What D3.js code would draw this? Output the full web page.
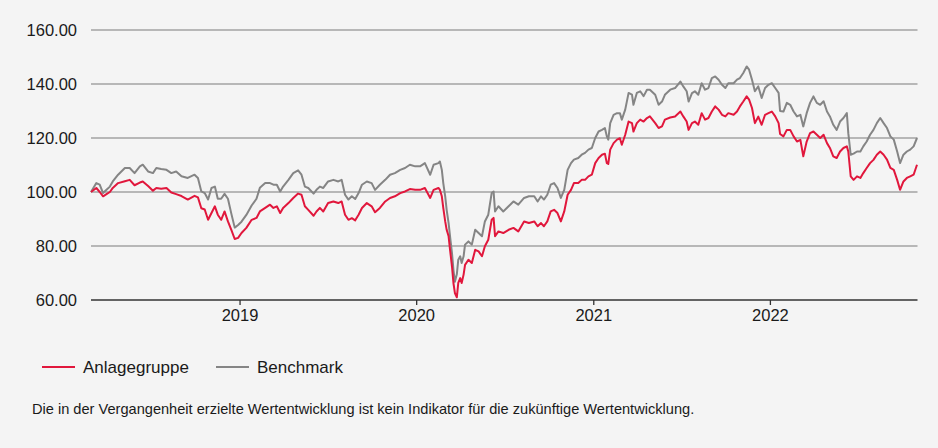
<!DOCTYPE html>
<html>
<meta charset="utf-8">
<title>Wertentwicklung Anlagegruppe vs. Benchmark</title>
<script src="https://d3js.org/d3.v7.min.js"></script>
<style>
body {
  margin: 0;
  background: #f4f4f4;
  font-family: "Liberation Sans", Arial, sans-serif;
}
.grid line {
  stroke: #a3a3a3;
  stroke-width: 1.5;
}
.axis text {
  fill: #1a1a1a;
  font-size: 16.5px;
  font-family: "Liberation Sans", Arial, sans-serif;
}
.legend text {
  fill: #1a1a1a;
  font-size: 17px;
}
.note {
  fill: #1a1a1a;
  font-size: 14.6px;
}
</style>
<body>
  <svg width="938" height="448"></svg>
  <script>
  // weekly-ish readings, indexed to 100 at start
  var dates = [
    "2018-02-28","2018-03-11","2018-03-18","2018-03-25","2018-04-01","2018-04-08","2018-04-14","2018-04-25",
    "2018-05-09","2018-05-19","2018-05-29","2018-06-09","2018-06-15","2018-06-26","2018-07-06","2018-07-13",
    "2018-07-23","2018-08-03","2018-08-13","2018-08-23","2018-09-03","2018-09-16","2018-09-30","2018-10-07",
    "2018-10-14","2018-10-21","2018-10-28","2018-11-04","2018-11-11","2018-11-17","2018-11-24","2018-12-01",
    "2018-12-08","2018-12-15","2018-12-22","2018-12-29","2019-01-05","2019-01-15","2019-01-26","2019-02-05",
    "2019-02-12","2019-02-23","2019-03-05","2019-03-12","2019-03-19","2019-03-26","2019-04-01","2019-04-12",
    "2019-04-22","2019-05-02","2019-05-09","2019-05-16","2019-05-23","2019-06-03","2019-06-09","2019-06-16",
    "2019-06-23","2019-07-03","2019-07-14","2019-07-24","2019-07-31","2019-08-07","2019-08-14","2019-08-21",
    "2019-08-28","2019-09-04","2019-09-11","2019-09-21","2019-10-01","2019-10-08","2019-10-18","2019-10-29",
    "2019-11-08","2019-11-18","2019-11-29","2019-12-09","2019-12-19","2019-12-30","2020-01-09","2020-01-19",
    "2020-01-30","2020-02-06","2020-02-16","2020-02-19","2020-02-23","2020-02-26","2020-03-01","2020-03-04",
    "2020-03-08","2020-03-11","2020-03-15","2020-03-18","2020-03-21","2020-03-25","2020-03-28","2020-04-01",
    "2020-04-04","2020-04-08","2020-04-11","2020-04-18","2020-04-25","2020-05-02","2020-05-09","2020-05-16",
    "2020-05-22","2020-05-29","2020-06-05","2020-06-09","2020-06-12","2020-06-19","2020-06-29","2020-07-10",
    "2020-07-20","2020-07-30","2020-08-11","2020-08-21","2020-09-01","2020-09-08","2020-09-15","2020-09-21",
    "2020-09-28","2020-10-05","2020-10-12","2020-10-19","2020-10-26","2020-11-02","2020-11-09","2020-11-16",
    "2020-11-22","2020-12-01","2020-12-08","2020-12-15","2020-12-22","2020-12-29","2021-01-05","2021-01-12",
    "2021-01-19","2021-01-25","2021-01-29","2021-02-01","2021-02-05","2021-02-12","2021-02-19","2021-02-25",
    "2021-03-01","2021-03-08","2021-03-15","2021-03-22","2021-03-25","2021-04-01","2021-04-08","2021-04-15",
    "2021-04-22","2021-04-28","2021-05-09","2021-05-16","2021-05-23","2021-05-29","2021-06-09","2021-06-19",
    "2021-06-30","2021-07-06","2021-07-13","2021-07-17","2021-07-24","2021-07-30","2021-08-06","2021-08-13",
    "2021-08-20","2021-08-27","2021-09-03","2021-09-10","2021-09-17","2021-09-24","2021-10-01","2021-10-07",
    "2021-10-18","2021-10-25","2021-10-31","2021-11-07","2021-11-14","2021-11-19","2021-11-25","2021-12-01",
    "2021-12-08","2021-12-15","2021-12-22","2021-12-29","2022-01-05","2022-01-12","2022-01-19","2022-01-22",
    "2022-01-29","2022-02-05","2022-02-12","2022-02-19","2022-02-26","2022-03-05","2022-03-11","2022-03-18",
    "2022-03-25","2022-04-01","2022-04-08","2022-04-15","2022-04-22","2022-04-29","2022-05-05","2022-05-12",
    "2022-05-19","2022-05-26","2022-06-02","2022-06-09","2022-06-12","2022-06-17","2022-06-23","2022-06-30",
    "2022-07-07","2022-07-13","2022-07-20","2022-07-27","2022-08-03","2022-08-10","2022-08-17","2022-08-24",
    "2022-08-31","2022-09-07","2022-09-14","2022-09-21","2022-09-27","2022-10-04","2022-10-11","2022-10-18",
    "2022-10-25","2022-11-01"
  ];

  var anlagegruppe = [
    100,101.5,100,98.4,99.2,100,101.5,103.3,
    104,104.5,102.5,103.5,103.9,102.2,100.5,101.5,
    101.2,101.5,99.8,99.2,98.5,97.2,98.6,98,
    94,93.5,89.7,92.2,94.7,91.6,89.7,92.8,
    89.1,86,82.6,83,84.8,86.7,89.7,90.4,
    92.8,94.1,95.3,94.1,94.7,92.2,94.1,95.9,
    97.8,99.4,99,94.7,93.4,91.2,92.8,94.1,
    92.8,95.9,96.5,95.9,96.5,91.6,89.7,90.3,
    89.5,91.6,94.1,95.9,94.7,92.5,94.1,96.5,
    97.8,98.4,99.6,100.2,101.1,100.8,100.8,101.5,
    97.8,100.8,101.5,100.8,98.4,94.1,89.1,86,
    83.6,78.6,72.4,66.3,62.6,61,66.3,68.1,
    66.3,69.4,73,74.9,73.7,78.6,78,76.2,
    79.9,82.3,89.7,90.4,83.6,85.4,84.8,86,
    86.7,85.4,89.1,88.5,89.1,87.3,88.5,87.3,
    89.1,92.8,93.4,92.2,89.1,92.8,99,100.8,
    103.3,103.3,104.5,104.5,105.8,106.4,110.7,112.6,
    113.8,114.2,110.7,110.4,115.7,118.1,119.4,119.9,
    117.5,121.2,126.1,125.5,122.4,125.5,126.8,126.1,
    127.4,128,125.5,123.7,124.3,126.8,127.6,128,
    129.8,128,126.1,123,125.5,126.1,124.9,129.2,
    126.8,127.4,129.8,131.7,130.5,128.6,128,129.2,
    128.6,129.8,131.7,133.5,135.4,134.2,131.1,125.5,
    127.9,124.9,128.6,129.2,129.8,128,125.5,121.5,
    120.6,123,123,120.6,118.7,119.3,113.2,118.7,
    121.8,122.4,121.2,120,121.2,118.1,116.3,113.2,
    112.6,115,116.3,116.9,115,105.8,104.5,105.8,
    105.2,107,108.9,110.7,111.9,113.8,115,113.8,
    112,108.9,108.2,104.5,100.8,103.9,105.2,105.8,
    106.4,110.1
  ];

  var benchmark = [
    100,103.3,102.7,99.6,100.8,102,103.9,106.4,
    108.9,108.9,107,109.5,110.1,107.6,107,108.9,
    108.5,108.2,107,107.6,105.8,105.2,106.4,105.2,
    100.2,99.6,97.2,101.5,102,97.5,97.5,99.3,
    97.5,92,86.8,87.8,89,91.5,95,97.5,
    101.6,103.3,103.3,102.7,102.7,100.2,102,104.5,
    107,108,106.4,102,101.5,99.4,100.8,102,
    101.5,103.9,104.5,103.9,104.5,99,97.2,98.4,
    97.4,99.6,102.7,103.9,103.3,100.8,102.7,104.5,
    106.4,107,108.2,108.9,110.1,109.5,109.5,110.7,
    106.4,110.1,110.7,111.3,108.2,103.3,98.4,93.4,
    88.5,83.6,77.4,71.2,66.8,69.5,74.9,76.2,
    73.7,76.2,80.5,81.7,80.5,86,84.8,83.6,
    89.1,91.6,99.6,100.2,92.8,94.7,92.8,94.7,
    96.5,95.3,97.8,98.4,98.4,96.5,98.4,97.2,
    99,102.7,103.3,101.5,97.8,100.8,108.2,110.7,
    112,112.6,113.8,114.5,115.7,116.3,120,122.4,
    123,123.7,120.6,119.4,125.5,128.6,129.2,129.2,
    126.8,130.5,136.7,136.1,132.3,136.7,137.3,135.5,
    137.9,137.9,136,132.3,133.5,136,137.9,138.5,
    140.9,139.1,137.3,133.5,136.6,137.3,136,140.3,
    137.9,138.5,142.2,142.8,141.6,139.7,138.5,140.3,
    140.3,141.6,142.2,144.1,146.5,145.3,141.6,137.3,
    139.1,134.8,138.5,139.7,140.3,138.5,136.7,130,
    129.8,133,132.3,129.8,128,128.6,124.3,129.2,
    133,135.4,133,132.3,133.6,129.8,128,124.9,
    123,126.1,127.4,129.2,121.8,113.8,114.2,115,
    115,116.9,118.7,121.2,123,125.5,127.4,125.5,
    123.7,120.6,119.4,115,110.7,113.8,115,115.7,
    116.9,120
  ];

  var yTicks = [60, 80, 100, 120, 140, 160];
  var xTicks = ["2019-01-01", "2020-01-01", "2021-01-01", "2022-01-01"];
  var seriesNames = ["Anlagegruppe", "Benchmark"];
  var seriesColors = ["#e1173c", "#858585"];
  var footnote = "Die in der Vergangenheit erzielte Wertentwicklung ist kein Indikator für die zukünftige Wertentwicklung.";

  var parse = d3.timeParse("%Y-%m-%d");
  var svg = d3.select("svg"),
      plot = { left: 91, right: 917.5, top: 30, bottom: 300 };

  var x = d3.scaleTime()
    .domain(d3.extent(dates, parse))
    .range([plot.left, plot.right - 0.5]);
  var y = d3.scaleLinear()
    .domain([60, 160])
    .range([plot.bottom, plot.top]);

  // horizontal grid lines
  svg.append("g")
    .attr("class", "grid")
    .selectAll("line")
    .data(yTicks.filter(function(d) { return d > 60; }))
    .enter().append("line")
    .attr("x1", plot.left)
    .attr("x2", plot.right)
    .attr("y1", function(d) { return y(d); })
    .attr("y2", function(d) { return y(d); });

  // y labels
  var yAxis = svg.append("g")
    .attr("class", "axis axis--y")
    .attr("transform", "translate(" + (plot.left - 14) + ",0)")
    .call(d3.axisLeft(y).tickValues(yTicks).tickSize(0).tickFormat(d3.format(".2f")));
  yAxis.select(".domain").remove();
  yAxis.selectAll("text").attr("x", 0).attr("dy", "0.35em");

  // lines
  var series = [anlagegruppe, benchmark];
  var line = d3.line()
    .x(function(d, i) { return x(parse(dates[i])); })
    .y(function(d) { return y(d); });

  // benchmark drawn first, red on top
  [1, 0].forEach(function(k) {
    svg.append("path")
      .datum(series[k])
      .attr("fill", "none")
      .attr("stroke", seriesColors[k])
      .attr("stroke-width", 2)
      .attr("stroke-linejoin", "round")
      .attr("d", line);
  });

  // x axis
  var xAxis = svg.append("g")
    .attr("class", "axis axis--x")
    .attr("transform", "translate(0," + plot.bottom + ")")
    .call(d3.axisBottom(x).tickValues(xTicks.map(parse)).tickSize(5).tickSizeOuter(0).tickFormat(d3.timeFormat("%Y")));
  xAxis.select(".domain")
    .attr("d", "M" + plot.left + ",0H" + plot.right)
    .attr("stroke", "#333")
    .attr("stroke-width", 1.5);
  xAxis.selectAll(".tick line").attr("stroke", "#333").attr("stroke-width", 1.3);
  xAxis.selectAll(".tick text").attr("y", 9).attr("dy", "0.71em");

  // legend
  var legendX = [42, 216];
  var legend = svg.append("g").attr("class", "legend")
    .selectAll("g")
    .data(seriesNames)
    .enter().append("g")
    .attr("transform", function(d, i) { return "translate(" + legendX[i] + ",367)"; });
  legend.append("line")
    .attr("x1", 0).attr("x2", 33)
    .attr("stroke", function(d, i) { return seriesColors[i]; })
    .attr("stroke-width", 2);
  legend.append("text")
    .attr("x", 41)
    .attr("dy", "0.35em")
    .text(function(d) { return d; });

  svg.append("text")
    .attr("class", "note")
    .attr("x", 32)
    .attr("y", 414)
    .text(footnote);
  </script>
</body>
</html>
